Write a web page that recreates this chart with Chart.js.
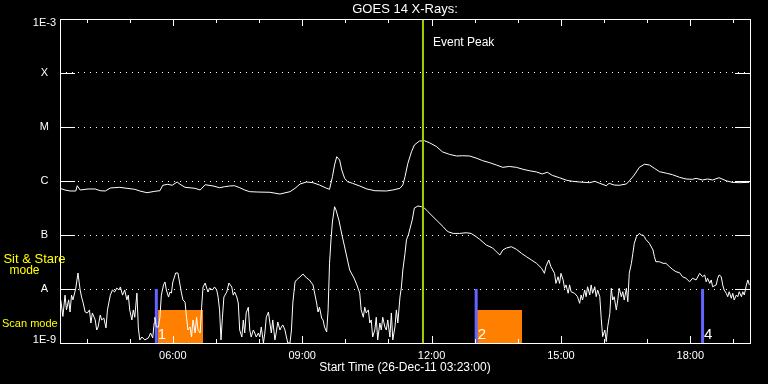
<!DOCTYPE html>
<html><head><meta charset="utf-8">
<script src="https://cdn.jsdelivr.net/npm/chart.js@4.4.1/dist/chart.umd.min.js"></script>
<style>html,body{margin:0;padding:0;background:#000;}canvas{display:block;background:#000;}</style>
</head><body>
<canvas id="c" width="768" height="384"></canvas>
<script>
// ---------- data ----------
const START_TIME = '03:23';
const SPAN_HOURS = 16;
const xTickLabels = ['06:00', '09:00', '12:00', '15:00', '18:00'];
const yTickValues = [1e-3, 1e-4, 1e-5, 1e-6, 1e-7, 1e-8, 1e-9];
const yTickLabels = ['1E-3', 'X', 'M', 'C', 'B', 'A', '1E-9'];

// GOES 14 long channel (1-8 A), minutes after start time, flux W/m^2
const longMinutes = [
  0, 7, 14, 22, 24, 28, 39, 49, 56, 63,
  70, 83, 93, 104, 111, 121, 132, 139, 143, 150,
  156, 163, 167, 174, 188, 195, 202, 213, 222, 229,
  236, 243, 250, 257, 264, 275, 292, 306, 320, 327,
  334, 343, 352, 361, 371, 375, 379, 382, 385, 389,
  392, 396, 400, 407, 417, 427, 438, 454, 463, 473,
  477, 480, 484, 489, 493, 500, 507, 514, 524, 532,
  542, 552, 560, 570, 580, 588, 598, 607, 616, 625,
  635, 644, 653, 663, 671, 678, 685, 695, 705, 713,
  723, 737, 744, 751, 760, 764, 771, 778, 788, 792,
  799, 806, 813, 820, 827, 834, 844, 852, 862, 871,
  880, 885, 894, 901, 908, 917, 927, 935, 945, 959
];
const longFlux = [
  7.32e-7, 6.81e-7, 6.53e-7, 6.53e-7, 8.18e-7, 6.81e-7, 7.11e-7, 7.11e-7, 6.61e-7, 6.53e-7,
  7.42e-7, 7.64e-7, 7.32e-7, 7.02e-7, 6.53e-7, 6.07e-7, 6.45e-7, 6.61e-7, 8.33e-7, 8.69e-7,
  8.33e-7, 9.58e-7, 8.69e-7, 7.64e-7, 7.32e-7, 6.81e-7, 8.54e-7, 8.08e-7, 7.51e-7, 7.84e-7,
  8.08e-7, 8.18e-7, 7.51e-7, 6.81e-7, 6.34e-7, 6.25e-7, 6.18e-7, 5.74e-7, 6.34e-7, 7.32e-7,
  8.80e-7, 9.58e-7, 9.30e-7, 8.43e-7, 7.32e-7, 7.02e-7, 1.20e-6, 1.98e-6, 2.82e-6, 2.45e-6,
  1.60e-6, 1.12e-6, 9.71e-7, 9.06e-7, 8.08e-7, 7.11e-7, 6.61e-7, 6.53e-7, 6.81e-7, 7.32e-7,
  8.43e-7, 1.20e-6, 2.13e-6, 3.47e-6, 4.64e-6, 5.50e-6, 5.57e-6, 5.12e-6, 4.32e-6, 3.47e-6,
  3.11e-6, 2.90e-6, 2.94e-6, 2.90e-6, 2.63e-6, 2.38e-6, 2.18e-6, 1.98e-6, 1.79e-6, 1.86e-6,
  1.79e-6, 1.65e-6, 1.55e-6, 1.47e-6, 1.35e-6, 1.45e-6, 1.27e-6, 1.15e-6, 1.03e-6, 9.87e-7,
  9.58e-7, 9.30e-7, 9.87e-7, 9.06e-7, 8.18e-7, 9.06e-7, 8.43e-7, 8.33e-7, 8.80e-7, 1.00e-6,
  1.29e-6, 1.79e-6, 2.04e-6, 1.98e-6, 1.72e-6, 1.49e-6, 1.39e-6, 1.31e-6, 1.17e-6, 1.09e-6,
  1.075e-6, 1.12e-6, 1.043e-6, 1.09e-6, 1.043e-6, 1.15e-6, 1.01e-6, 9.46e-7, 9.30e-7, 9.46e-7
];

// GOES 14 short channel (0.5-4 A), minutes after start time, flux W/m^2
const shortMinutes = [
  1, 4, 7, 9, 12, 14, 16, 18, 22, 25,
  28, 30, 32, 35, 38, 41, 43, 45, 49, 51,
  53, 56, 58, 61, 64, 66, 70, 73, 76, 79,
  82, 84, 87, 90, 93, 95, 97, 100, 102, 104,
  107, 109, 111, 114, 118, 123, 126, 129, 131, 132,
  134, 137, 139, 141, 144, 146, 148, 151, 153, 155,
  157, 161, 164, 167, 169, 171, 174, 176, 178, 181,
  183, 185, 188, 190, 192, 195, 197, 199, 202, 204,
  206, 208, 212, 215, 218, 220, 222, 224, 226, 228,
  232, 235, 239, 241, 243, 246, 248, 250, 253, 255,
  257, 259, 262, 264, 266, 269, 271, 273, 276, 278,
  280, 283, 285, 287, 290, 292, 294, 296, 299, 301,
  303, 306, 308, 310, 313, 315, 317, 320, 322, 324,
  327, 329, 334, 338, 343, 347, 352, 357, 359, 361,
  364, 366, 368, 371, 373, 375, 377, 379, 382, 384,
  388, 392, 396, 400, 403, 409, 413, 417, 419, 422,
  424, 426, 429, 431, 433, 435, 438, 440, 442, 445,
  447, 449, 452, 454, 456, 459, 461, 463, 466, 468,
  470, 473, 475, 477, 480, 482, 485, 490, 493, 498,
  503, 507, 512, 519, 526, 533, 537, 540, 547, 556,
  565, 572, 579, 584, 593, 602, 607, 612, 616, 621,
  628, 635, 642, 649, 656, 663, 670, 674, 676, 680,
  683, 688, 690, 693, 695, 697, 700, 702, 704, 707,
  709, 711, 716, 720, 723, 725, 727, 730, 732, 734,
  737, 739, 741, 744, 746, 748, 751, 753, 755, 758,
  760, 762, 765, 767, 769, 771, 774, 776, 778, 781,
  783, 785, 788, 790, 792, 795, 797, 799, 802, 806,
  809, 811, 813, 815, 820, 825, 827, 829, 834, 839,
  843, 848, 852, 857, 862, 866, 871, 876, 880, 885,
  890, 894, 897, 899, 901, 904, 906, 908, 913, 915,
  917, 920, 922, 924, 927, 929, 931, 934, 936, 938,
  941, 943, 945, 948, 950, 952, 955, 957, 959
];
const shortFlux = [
  6.3e-9, 3.1e-9, 7.7e-9, 4.1e-9, 6.3e-9, 3.75e-9, 7.7e-9, 6.3e-9, 1.04e-8, 1.98e-8,
  9.6e-9, 7.1e-9, 5.7e-9, 3.75e-9, 3.6e-9, 4.1e-9, 2.35e-9, 3.6e-9, 2.67e-9, 1.74e-9,
  1.98e-9, 3.3e-9, 2.67e-9, 2.9e-9, 1.9e-9, 4.1e-9, 7.7e-9, 9.6e-9, 8.8e-9, 1.04e-8,
  9.6e-9, 1.09e-8, 7.7e-9, 9.6e-9, 6.3e-9, 7.7e-9, 4.1e-9, 2.67e-9, 4.1e-9, 3.0e-9,
  8.4e-9, 1.9e-9, 1.14e-9, 1.29e-9, 1.14e-9, 1.24e-9, 1.53e-9, 1.24e-9, 2.35e-9, 3.0e-9,
  1.98e-9, 1.98e-9, 3.0e-9, 7.7e-9, 1.19e-8, 1.35e-8, 9.6e-9, 7.1e-9, 8.8e-9, 8.4e-9,
  1.35e-8, 1.98e-8, 1.98e-8, 1.19e-8, 8.4e-9, 6.3e-9, 5.7e-9, 3.0e-9, 1.74e-9, 1.98e-9,
  1.29e-9, 2.67e-9, 1.53e-9, 3.0e-9, 1.74e-9, 1.53e-9, 4.6e-9, 1.09e-8, 1.29e-8, 1.04e-8,
  8.8e-9, 1.04e-8, 9.6e-9, 1.09e-8, 9.6e-9, 7.1e-9, 4.1e-9, 1.14e-9, 3.0e-9, 7.1e-9,
  8.8e-9, 1.29e-8, 1.09e-8, 7.7e-9, 8.8e-9, 7.1e-9, 5.5e-9, 1.74e-9, 1.29e-9, 2.67e-9,
  1.53e-9, 3.6e-9, 4.6e-9, 1.74e-9, 1.29e-9, 1.74e-9, 1.53e-9, 1.29e-9, 1.53e-9, 1.29e-9,
  1.98e-9, 1.0e-9, 1.53e-9, 3.0e-9, 3.75e-9, 2.35e-9, 1.53e-9, 2.67e-9, 1.14e-9, 1.6e-9,
  2.45e-9, 1.74e-9, 1.98e-9, 2.16e-9, 1.74e-9, 1.29e-9, 1.0e-9, 1.0e-9, 1.74e-9, 5.7e-9,
  1.35e-8, 1.47e-8, 1.67e-8, 1.9e-8, 1.6e-8, 1.47e-8, 1.19e-8, 5.5e-9, 3.75e-9, 4.6e-9,
  2.9e-9, 2.67e-9, 1.98e-9, 1.6e-9, 4.1e-9, 3.0e-8, 8.1e-8, 1.74e-7, 3.34e-7, 2.9e-7,
  1.89e-7, 1.04e-7, 6.0e-8, 3.44e-8, 2.25e-8, 1.6e-8, 1.19e-8, 8.4e-9, 4.1e-9, 3.0e-9,
  4.6e-9, 3.6e-9, 4.1e-9, 2.35e-9, 2.67e-9, 1.29e-9, 1.74e-9, 3.0e-9, 1.14e-9, 2.35e-9,
  1.74e-9, 3.0e-9, 1.98e-9, 1.74e-9, 2.67e-9, 1.29e-9, 3.6e-9, 1.14e-9, 1.98e-9, 4.1e-9,
  2.35e-9, 7.1e-9, 1.09e-8, 2.25e-8, 4.58e-8, 8.1e-8, 1.04e-7, 1.89e-7, 3.16e-7, 3.44e-7,
  3.34e-7, 3.16e-7, 2.7e-7, 2.18e-7, 1.76e-7, 1.43e-7, 1.24e-7, 1.15e-7, 1.07e-7, 1.07e-7,
  1.10e-7, 1.07e-7, 9.3e-8, 8.3e-8, 6.53e-8, 5.74e-8, 4.91e-8, 4.26e-8, 5.27e-8, 5.74e-8,
  6.07e-8, 5.43e-8, 4.58e-8, 3.96e-8, 3.44e-8, 2.99e-8, 2.42e-8, 1.95e-8, 2.59e-8, 3.44e-8,
  2.59e-8, 1.95e-8, 1.27e-8, 1.69e-8, 1.27e-8, 1.95e-8, 1.47e-8, 1.03e-8, 1.19e-8, 8.33e-9,
  1.19e-8, 8.91e-9, 8.33e-9, 7.2e-9, 5.43e-9, 7.74e-9, 6.25e-9, 9.58e-9, 7.2e-9, 1.10e-8,
  7.74e-9, 1.19e-8, 8.33e-9, 1.10e-8, 7.2e-9, 9.58e-9, 7.2e-9, 2.87e-9, 1.31e-9, 1.74e-9,
  1.06e-9, 2.0e-9, 3.55e-9, 1.03e-8, 6.25e-9, 7.2e-9, 4.09e-9, 6.25e-9, 1.03e-8, 7.2e-9,
  8.91e-9, 6.25e-9, 1.03e-8, 5.82e-9, 1.95e-8, 2.99e-8, 4.58e-8, 7.02e-8, 9.3e-8, 1.07e-7,
  1.0e-7, 1.0e-7, 9.3e-8, 8.3e-8, 7.02e-8, 5.27e-8, 3.96e-8, 3.2e-8, 3.2e-8, 2.99e-8,
  2.99e-8, 2.59e-8, 2.32e-8, 2.09e-8, 2.0e-8, 1.69e-8, 1.58e-8, 1.36e-8, 1.58e-8, 1.47e-8,
  1.95e-8, 1.69e-8, 1.82e-8, 1.36e-8, 1.58e-8, 1.27e-8, 1.47e-8, 1.10e-8, 1.19e-8, 1.58e-8,
  1.82e-8, 1.69e-8, 1.19e-8, 9.58e-9, 8.33e-9, 7.2e-9, 8.91e-9, 6.73e-9, 8.33e-9, 6.25e-9,
  7.74e-9, 7.2e-9, 8.91e-9, 7.2e-9, 8.91e-9, 7.74e-9, 1.19e-8, 1.47e-8, 1.19e-8
];

const eventPeakTime = '11:48';
const rasterTimes = ['05:37', '13:02', '18:17'];
const rasterLabels = ['1', '2', '4'];
const rasterTop = 1e-8;
const scanStarts = ['05:39', '13:03'];
const scanEnds = ['06:42', '14:06'];
const scanTop = 4.1e-9;

// ---------- helpers ----------
const hm = s => { const [h, m] = s.split(':').map(Number); return h + m / 60; };
const T0 = hm(START_TIME);
const FONT = "'Liberation Sans', Arial, sans-serif";
if (longMinutes.length !== longFlux.length || shortMinutes.length !== shortFlux.length)
  console.error('length mismatch', longMinutes.length, longFlux.length, shortMinutes.length, shortFlux.length);

const longData = longMinutes.map((m, i) => ({x: T0 + m / 60, y: longFlux[i]}));
const shortData = shortMinutes.map((m, i) => ({x: T0 + m / 60, y: shortFlux[i]}));
const peakX = hm(eventPeakTime);

const datasets = [
  {label: 'Event Peak', data: [{x: peakX, y: 1e-9}, {x: peakX, y: 1e-3}], borderColor: '#a0d000', borderWidth: 2, pointRadius: 0, order: 0},
  {label: 'Long', data: longData, borderColor: '#ffffff', borderWidth: 1, pointRadius: 0, tension: 0, order: 1},
  {label: 'Short', data: shortData, borderColor: '#ffffff', borderWidth: 1, pointRadius: 0, tension: 0, order: 1}
];
rasterTimes.forEach((t, i) => datasets.push({
  label: 'Raster ' + rasterLabels[i], data: [{x: hm(t), y: 1e-9}, {x: hm(t), y: rasterTop}],
  borderColor: '#6464ff', borderWidth: 3, borderCapStyle: 'butt', pointRadius: 0, order: 2
}));
scanStarts.forEach((t, i) => datasets.push({
  label: 'Scan ' + (i + 1), data: [{x: hm(t), y: scanTop}, {x: hm(scanEnds[i]), y: scanTop}],
  borderWidth: 0, borderColor: 'rgba(0,0,0,0)', backgroundColor: '#ff8000', fill: 'start', pointRadius: 0, order: 3
}));

// ---------- plugins ----------
const framePlugin = {
  id: 'frame',
  afterDatasetsDraw(chart) {
    const {ctx, chartArea: {left, right, top, bottom}, scales: {x, y}} = chart;
    ctx.save();
    ctx.strokeStyle = '#ffffff';
    ctx.lineWidth = 1;
    ctx.strokeRect(left + 0.5, top + 0.5, right - left, bottom - top);
    ctx.beginPath();
    for (let h = Math.ceil(x.min); h <= Math.floor(x.max); h++) {
      const px = Math.round(x.getPixelForValue(h)) + 0.5;
      const len = h % 3 === 0 ? 7 : 4;
      ctx.moveTo(px, bottom); ctx.lineTo(px, bottom - len);
      ctx.moveTo(px, top); ctx.lineTo(px, top + len);
    }
    yTickValues.forEach(v => {
      const py = Math.round(y.getPixelForValue(v)) + 0.5;
      ctx.moveTo(left, py); ctx.lineTo(left + 15, py);
      ctx.moveTo(right - 15, py); ctx.lineTo(right + 1, py);
    });
    ctx.stroke();
    ctx.restore();
  },
  afterDraw(chart) {
    const {ctx, scales: {x}} = chart;
    ctx.save();
    ctx.fillStyle = '#ffffff';
    ctx.textBaseline = 'middle';
    ctx.textAlign = 'left';
    ctx.font = '12px ' + FONT;
    ctx.fillText('Event Peak', x.getPixelForValue(peakX) + 10, 43);
    ctx.font = '15px ' + FONT;
    ctx.textBaseline = 'alphabetic';
    rasterTimes.forEach((t, i) => ctx.fillText(rasterLabels[i], x.getPixelForValue(hm(t)) + 1.5, 339));
    ctx.fillStyle = '#ffff00';
    ctx.textBaseline = 'middle';
    ctx.textAlign = 'center';
    ctx.font = '13px ' + FONT;
    ctx.fillText('Sit & Stare', 34.5, 259);
    ctx.font = '12px ' + FONT;
    ctx.fillText('mode', 24.5, 271);
    ctx.textAlign = 'left';
    ctx.font = '11px ' + FONT;
    ctx.fillText('Scan mode', 2, 324);
    ctx.restore();
  }
};

Chart.defaults.font.family = FONT;
Chart.defaults.color = '#ffffff';

new Chart(document.getElementById('c'), {
  type: 'line',
  data: {datasets},
  options: {
    responsive: false,
    animation: false,
    devicePixelRatio: 1,
    events: [],
    layout: {padding: {left: 0, right: 18, top: 0, bottom: 0}},
    plugins: {
      legend: {display: false},
      tooltip: {enabled: false},
      title: {
        display: true, text: 'GOES 14 X-Rays:', color: '#ffffff', fullSize: false,
        font: {family: FONT, size: 13, weight: 'normal', lineHeight: '15px'},
        padding: {top: 2, bottom: 2}
      }
    },
    scales: {
      x: {
        type: 'linear', min: T0, max: T0 + SPAN_HOURS,
        grid: {display: false, drawTicks: false},
        border: {display: false},
        afterBuildTicks: s => { s.ticks = xTickLabels.map(l => ({value: hm(l)})); },
        afterFit: s => { s.height = 41; },
        ticks: {color: '#ffffff', font: {size: 11}, padding: 6, maxRotation: 0, autoSkip: false,
                callback: (v, i) => xTickLabels[i]},
        title: {display: true, text: 'Start Time (26-Dec-11 03:23:00)', color: '#ffffff',
                font: {size: 12}, padding: {top: 0, bottom: 9}}
      },
      y: {
        type: 'logarithmic', min: 1e-9, max: 1e-3, position: 'left',
        afterBuildTicks: s => {
          const last = yTickValues.length - 1;
          s.ticks = yTickValues.map((v, i) => ({
            value: i === 0 ? v * Math.pow(10, -4 / 54) : (i === last ? v * Math.pow(10, 3 / 54) : v)
          }));
        },
        afterFit: s => { s.width = 60; },
        grid: {
          drawTicks: false, lineWidth: 1,
          color: c => (c.index === 0 || c.index === yTickValues.length - 1) ? 'rgba(0,0,0,0)' : '#ffffff'
        },
        border: {display: false, dash: [1, 5]},
        ticks: {color: '#ffffff', font: {size: 11}, padding: 4, crossAlign: 'center', autoSkip: false,
                callback: (v, i) => yTickLabels[i]}
      }
    }
  },
  plugins: [framePlugin]
});
</script>
</body></html>
